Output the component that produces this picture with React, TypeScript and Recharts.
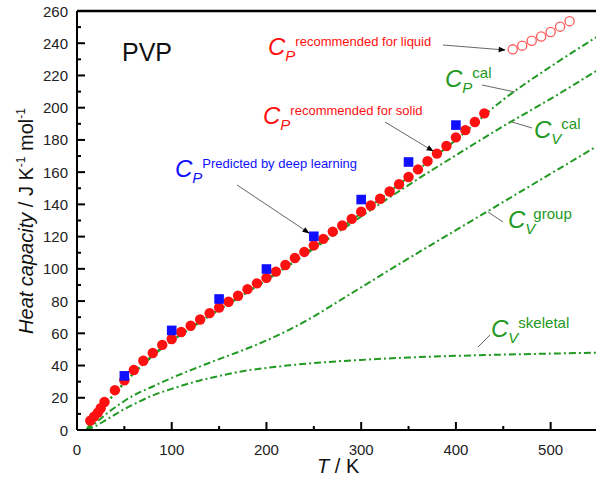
import { ComposedChart, Line, Scatter, XAxis, YAxis, ReferenceLine } from "recharts";

// --- data ---
const solidT = [
  14, 18, 22, 25, 29, 40, 50, 60, 70, 80, 90, 100, 110, 120, 130, 140, 150, 160, 170, 180, 190, 200,
  210, 220, 230, 240, 250, 260, 270, 280, 290, 300, 310, 320, 330, 340, 350, 360, 370, 380, 390, 400,
  410, 420, 430,
];
const solidCp = [
  5.8, 8.3, 10.8, 13.5, 17.4, 24.7, 30.9, 37.2, 43, 47.8, 52.8, 56.5, 60.8, 64.7, 68.6, 72.5, 76, 79.6,
  83.3, 87.4, 91, 94.4, 98.3, 102.4, 106.7, 110.5, 114.6, 118.6, 123.1, 126.9, 131, 135.5, 139.3, 143.5,
  148, 152.5, 157, 161.7, 166.8, 171.5, 176.2, 181.6, 186.1, 191.1, 196.5,
];

const liquidT = [460, 470, 480, 490, 500, 510, 520];
const liquidCp = [236.2, 238.5, 241.5, 244.2, 247, 250.3, 253.7];

const predictedT = [50, 100, 150, 200, 250, 300, 350, 400];
const predictedCp = [33.6, 61.8, 81.3, 99.9, 120.2, 143, 166.3, 189.2];

const curveT = [10, 20, 30, 40, 50, 60, 80, 100, 125, 150, 175, 200, 225, 250, 275, 300, 350, 400, 450, 500, 550];
const cpCal = [0, 9, 16, 23, 29.5, 35.5, 46.5, 55.5, 65.5, 75, 84, 93.5, 103, 113.5, 124, 134.5, 157, 180, 205, 225.5, 244.4];
const cvCal = [0, 8.8, 15.7, 22.6, 29, 35, 46, 55, 65, 74.5, 83.5, 93, 102.5, 112.5, 122.5, 132.5, 152, 170.5, 188.5, 205.5, 223.5];
const cvGroup = [0, 4.5, 9.5, 14, 18, 21.5, 27, 32.3, 38.3, 44, 49.5, 55.5, 62.5, 70.5, 79.5, 88.5, 106.5, 124, 141.5, 159, 176.5];
const cvSkeletal = [0, 2.5, 6, 9.5, 13, 16, 21.5, 25.5, 30, 33.5, 36.5, 38.5, 40.2, 41.5, 42.6, 43.5, 45, 46, 46.8, 47.4, 48];

const xTicks = Array.from({ length: 12 }, (_, i) => i * 50);
const yTicks = Array.from({ length: 27 }, (_, i) => i * 10);

const pairs = (ts: number[], cs: number[]) => ts.map((t, i) => ({ t, c: cs[i] }));

const solidData = pairs(solidT, solidCp);
const liquidData = pairs(liquidT, liquidCp);
const predictedData = pairs(predictedT, predictedCp);
const cpCalData = pairs(curveT, cpCal);
const cvCalData = pairs(curveT, cvCal);
const cvGroupData = pairs(curveT, cvGroup);
const cvSkeletalData = pairs(curveT, cvSkeletal);

const FONT = '"Liberation Sans", Arial, sans-serif';
const GREEN = "#229922";
const RED = "#ff1010";
const BLUE = "#1010ff";
const DASH = "7 3 2 3";

function XTick({ x, y, payload }: any) {
  const v = payload.value as number;
  const major = v % 100 === 0;
  return (
    <g>
      <line x1={x} x2={x} y1={y} y2={y - (major ? 8 : 4)} stroke="#000" strokeWidth={2} />
      {major && v <= 500 ? (
        <text x={x} y={y + 25} textAnchor="middle" fontSize={15} fontFamily={FONT} fill="#222">
          {v}
        </text>
      ) : null}
    </g>
  );
}

function YTick({ x, y, payload }: any) {
  const v = payload.value as number;
  const major = v % 20 === 0;
  return (
    <g>
      <line x1={x} x2={x + (major ? 8 : 4)} y1={y} y2={y} stroke="#000" strokeWidth={2} />
      {major ? (
        <text x={x - 9} y={y + 5.5} textAnchor="end" fontSize={15} fontFamily={FONT} fill="#222">
          {v}
        </text>
      ) : null}
    </g>
  );
}

const dot = (props: any) => <circle cx={props.cx} cy={props.cy} r={5.2} fill={RED} />;
const ring = (props: any) => (
  <circle cx={props.cx} cy={props.cy} r={4.6} fill="#fff" stroke="#ff5a5a" strokeWidth={1.3} />
);
const square = (props: any) => (
  <rect x={props.cx - 4.8} y={props.cy - 4.8} width={9.6} height={9.6} fill={BLUE} />
);

// C with italic subscript and an upright superscript, as one text element
function CLabel({
  x,
  y,
  color,
  sub,
  sup,
  supSize = 13,
  supDx = 0,
}: {
  x: number;
  y: number;
  color: string;
  sub: string;
  sup: string;
  supSize?: number;
  supDx?: number;
}) {
  return (
    <text x={x} y={y} fontFamily={FONT} fill={color} fontSize={24}>
      <tspan fontStyle="italic">C</tspan>
      <tspan fontStyle="italic" fontSize={15} dy={6}>
        {sub}
      </tspan>
      <tspan fontSize={supSize} dy={-15} dx={supDx}>
        {sup}
      </tspan>
    </text>
  );
}

function Annotations() {
  const lead = { stroke: "#666", strokeWidth: 1 };
  return (
    <svg
      width={596}
      height={478}
      style={{ position: "absolute", left: 0, top: 0, pointerEvents: "none" }}
    >
      <defs>
        <marker id="head" viewBox="0 0 10 10" refX="9" refY="5" markerWidth="9" markerHeight="7" orient="auto">
          <path d="M0,1 L10,5 L0,9 z" fill="#000" />
        </marker>
      </defs>
      <text x={122} y={61} fontSize={25} fontFamily={FONT} fill="#111">
        PVP
      </text>

      <CLabel x={268} y={55} color={RED} sub="P" sup="recommended for liquid" />
      <line x1={443} y1={45} x2={505} y2={50} {...lead} markerEnd="url(#head)" />

      <CLabel x={263} y={124} color={RED} sub="P" sup="recommended for solid" />
      <line x1={385} y1={122} x2={433} y2={151} {...lead} markerEnd="url(#head)" />

      <CLabel x={175} y={177} color={BLUE} sub="P" sup="Predicted by deep learning" />
      <line x1={237} y1={185} x2={309} y2={233} {...lead} markerEnd="url(#head)" />

      <CLabel x={445} y={87} color={GREEN} sub="P" sup="cal" supSize={15} />
      <line x1={482} y1={85} x2={515} y2={92} {...lead} />

      <CLabel x={534} y={138} color={GREEN} sub="V" sup="cal" supSize={15} />
      <line x1={512} y1={122} x2={532} y2={128} {...lead} />

      <CLabel x={508} y={228} color={GREEN} sub="V" sup="group" supSize={15} supDx={-2} />
      <line x1={488} y1={212} x2={503} y2={222} {...lead} />

      <CLabel x={491} y={337} color={GREEN} sub="V" sup="skeletal" supSize={15} />
      <line x1={478} y1={347} x2={490} y2={335} {...lead} />

      <text transform="translate(33,221) rotate(-90)" textAnchor="middle" fontSize={20} fontFamily={FONT} fill="#111">
        <tspan fontStyle="italic">Heat capacity</tspan>
        <tspan> / J K</tspan>
        <tspan fontSize={12} dy={-8}>-1</tspan>
        <tspan dy={8}> mol</tspan>
        <tspan fontSize={12} dy={-8}>-1</tspan>
      </text>

      <text x={317} y={473} fontSize={20} fontFamily={FONT} fill="#111">
        <tspan fontStyle="italic">T</tspan>
        <tspan> / K</tspan>
      </text>
    </svg>
  );
}

function curve(data: { t: number; c: number }[], key: string) {
  return (
    <Line
      key={key}
      data={data}
      dataKey="c"
      type="monotone"
      stroke={GREEN}
      strokeWidth={2}
      strokeDasharray={DASH}
      dot={false}
      activeDot={false}
      isAnimationActive={false}
    />
  );
}

export default function App() {
  return (
    <div
      style={{
        position: "absolute",
        left: 0,
        top: 0,
        width: 596,
        height: 478,
        overflow: "hidden",
        background: "#fff",
      }}
    >
      <ComposedChart width={620} height={478} margin={{ top: 11, right: 22, bottom: 18, left: 17 }}>
        <XAxis
          dataKey="t"
          type="number"
          domain={[0, 550]}
          ticks={xTicks}
          interval={0}
          height={30}
          tickSize={0}
          tickMargin={0}
          tickLine={false}
          axisLine={{ stroke: "#000", strokeWidth: 2 }}
          tick={<XTick />}
          allowDataOverflow
        />
        <YAxis
          dataKey="c"
          type="number"
          domain={[0, 260]}
          ticks={yTicks}
          interval={0}
          width={60}
          tickSize={0}
          tickMargin={0}
          tickLine={false}
          axisLine={{ stroke: "#000", strokeWidth: 2 }}
          tick={<YTick />}
          allowDataOverflow
        />
        <ReferenceLine y={260} stroke="#000" strokeWidth={2.5} />
        {curve(cvSkeletalData, "skel")}
        {curve(cvGroupData, "group")}
        {curve(cvCalData, "cvcal")}
        {curve(cpCalData, "cpcal")}
        <Scatter data={solidData} dataKey="c" shape={dot} isAnimationActive={false} />
        <Scatter data={liquidData} dataKey="c" shape={ring} isAnimationActive={false} />
        <Scatter data={predictedData} dataKey="c" shape={square} isAnimationActive={false} />
      </ComposedChart>
      <Annotations />
    </div>
  );
}
